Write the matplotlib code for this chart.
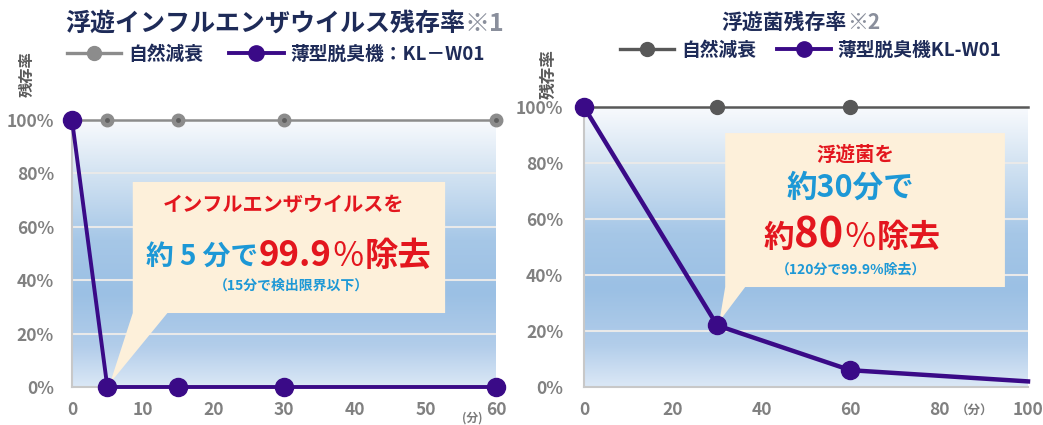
import numpy as np
import matplotlib
matplotlib.use('Agg')
import matplotlib.pyplot as plt
from matplotlib.patches import Polygon
from matplotlib.lines import Line2D
from matplotlib.colors import LinearSegmentedColormap

W, H = 1043, 425
JP = ['Noto Sans CJK JP', 'DejaVu Sans']
plt.rcParams['font.family'] = JP

# ---------------- data ----------------
flu_time = [0, 5, 15, 30, 60]
flu_natural = [100, 100, 100, 100, 100]
flu_device = [100, 0, 0, 0, 0]
flu_xticks = [0, 10, 20, 30, 40, 50, 60]

bac_time = [0, 30, 60, 100]
bac_natural = [100, 100, 100, 100]
bac_device = [100, 22, 6, 2]
bac_marker_idx = [0, 1, 2]
bac_xticks = [0, 20, 40, 60, 80, 100]

yticks = [0, 20, 40, 60, 80, 100]
ytick_labels = [f'{v}%' for v in yticks]

title_left = '浮遊インフルエンザウイルス残存率'
note_left = '※1'
title_right = '浮遊菌残存率'
note_right = '※2'
legend_left = ['自然減衰', '薄型脱臭機：KL－W01']
legend_right = ['自然減衰', '薄型脱臭機KL-W01']
ylabel_text = '残存率'
xunit_left = '(分)'
xunit_right = '（分）'

# ---------------- style ----------------
NAVY = '#1e2b58'
RED = '#e3161e'
BLUE = '#1d98d6'
PURPLE = '#3a0a87'
GRAY_L = '#8c8c8c'
GRAY_R = '#585858'
CREAM = '#fdf0da'
TICK = '#808080'

fig = plt.figure(figsize=(W / 100, H / 100), dpi=100)


def px_axes(x0, x1, ytop, ybot):
    return fig.add_axes([x0 / W, 1 - ybot / H, (x1 - x0) / W, (ybot - ytop) / H])


axL = px_axes(72, 496, 120, 387)
axR = px_axes(584, 1028, 107, 387)

grad_cmap = LinearSegmentedColormap.from_list('bg', [
    (0.0, '#dbe8f6'), (0.15, '#b2cdea'), (0.35, '#9bc0e4'),
    (0.55, '#a6c7e7'), (0.8, '#d3e3f2'), (1.0, '#f8fafd')])
grad = np.linspace(0, 1, 256).reshape(-1, 1)


def style_axes(ax, xmax, xticks, ypad):
    ax.set_xlim(0, xmax)
    ax.set_ylim(0, 100)
    ax.imshow(grad, extent=(0, xmax, 0, 100), origin='lower', aspect='auto',
              cmap=grad_cmap, zorder=0)
    ax.hlines([20, 40, 60, 80], 0, xmax, color='#e9e9e9', lw=1.5, zorder=1)
    for s in ['top', 'right']:
        ax.spines[s].set_visible(False)
    for s in ['left', 'bottom']:
        ax.spines[s].set_color('#c8c8c8')
        ax.spines[s].set_linewidth(1.5)
    ax.set_xticks(xticks)
    ax.set_yticks(yticks)
    ax.set_yticklabels(ytick_labels)
    ax.tick_params(axis='both', length=0, labelsize=12.5, labelcolor=TICK)
    ax.tick_params(axis='y', pad=ypad)
    ax.tick_params(axis='x', pad=10)
    for lab in ax.get_xticklabels() + ax.get_yticklabels():
        lab.set_fontweight('bold')


style_axes(axL, 60, flu_xticks, 13)
style_axes(axR, 100, bac_xticks, 15)


# callout boxes (drawn behind the lines)
def callout(ax, x0, x1, y0, y1, tb0, tb1, tip):
    verts = [(x0, y1), (x1, y1), (x1, y0), (tb1, y0), tip, (tb0, y0), (x0, y0)]
    ax.add_patch(Polygon(verts, closed=True, facecolor=CREAM, edgecolor='none', zorder=2))


callout(axL, 8.6, 52.8, 27.7, 76.8, 8.6, 13.5, (flu_time[1] + 0.4, flu_device[1] + 1.5))
callout(axR, 31.8, 94.8, 35.7, 90.7, 31.8, 36.3, (bac_time[1] + 0.5, bac_device[1] + 1.5))

# left series
axL.plot(flu_time, flu_natural, color=GRAY_L, lw=1.8, marker='o', ms=9,
         mfc=GRAY_L, mec=GRAY_L, zorder=4, clip_on=False)
axL.plot(flu_time, flu_natural, ls='none', marker='o', ms=2.5, color='#5f5f5f',
         zorder=4.5, clip_on=False)
axL.plot(flu_time, flu_device, color=PURPLE, lw=2.8, marker='o', ms=13,
         mfc=PURPLE, mec=PURPLE, zorder=5, clip_on=False)

# right series
axR.plot(bac_time, bac_natural, color=GRAY_R, lw=1.8, marker='o', ms=10,
         markevery=bac_marker_idx, mfc=GRAY_R, mec=GRAY_R, zorder=4, clip_on=False)
axR.plot(bac_time, bac_device, color=PURPLE, lw=3.2, marker='o', ms=13,
         markevery=bac_marker_idx, mfc=PURPLE, mec=PURPLE, zorder=5, clip_on=False)


# legends
def make_legend(ax, labels, gray, gray_ms, x_px, y_px, colsp):
    hs = [Line2D([], [], color=gray, lw=2.4, marker='o', ms=gray_ms, mfc=gray, mec=gray),
          Line2D([], [], color=PURPLE, lw=2.8, marker='o', ms=11, mfc=PURPLE, mec=PURPLE)]
    leg = ax.legend(hs, labels, loc='center left', bbox_to_anchor=(x_px / W, 1 - y_px / H),
                    bbox_transform=fig.transFigure, ncol=2, frameon=False,
                    handlelength=2.9, handletextpad=0.35, columnspacing=colsp,
                    borderpad=0, borderaxespad=0,
                    prop={'family': JP, 'weight': 'bold', 'size': 13.5})
    for t in leg.get_texts():
        t.set_color(NAVY)


make_legend(axL, legend_left, GRAY_L, 10, 67, 54, 1.4)
make_legend(axR, legend_right, GRAY_R, 10, 620, 50, 1.1)

# rich text lines
fig.canvas.draw()
renderer = fig.canvas.get_renderer()


def rich(xpx, ybase_px, segs, ha='center'):
    ts = []
    for seg in segs:
        s, size, color = seg[:3]
        weight = seg[3] if len(seg) > 3 else 'bold'
        t = fig.text(0, 1 - ybase_px / H, s, fontsize=size, color=color, fontweight=weight,
                     va='baseline', ha='left', family=JP)
        ts.append(t)
    ws = [t.get_window_extent(renderer).width for t in ts]
    x = xpx - sum(ws) / 2 if ha == 'center' else xpx
    for t, w in zip(ts, ws):
        t.set_x(x / W)
        x += w


# titles
rich(65, 31, [(title_left, 18, NAVY), (note_left, 18, '#8a8f9c')], ha='left')
rich(801, 29, [(title_right, 15, NAVY), (note_right, 15, '#8a8f9c')])

# left callout text
rich(284, 211, [('インフルエンザウイルスを', 14.5, RED)])
rich(289, 266, [('約 5 分で', 20, BLUE), ('99.9', 25, RED), ('％', 24, RED, 'normal'),
                ('除去', 24, RED)])
rich(291, 290, [('（15分で検出限界以下）', 10, BLUE)])

# right callout text
rich(855, 161, [('浮遊菌を', 14, RED)])
rich(850, 197, [('約30分で', 22, BLUE)])
rich(852, 247, [('約', 22, RED), ('80', 30, RED), ('％', 24, RED, 'normal'),
                ('除去', 23, RED)])
rich(851, 274, [('（120分で99.9%除去）', 10, BLUE)])

# y labels and x units
fig.text(27 / W, 1 - 74 / H, ylabel_text, rotation=90, ha='center', va='center',
         fontsize=11, fontweight='bold', color='#5a5a5a')
fig.text(549 / W, 1 - 74 / H, ylabel_text, rotation=90, ha='center', va='center',
         fontsize=12, fontweight='bold', color='#5a5a5a')
fig.text(472 / W, 1 - 418 / H, xunit_left, ha='center', va='center',
         fontsize=8.5, fontweight='bold', color='#7a7a7a')
fig.text(975 / W, 1 - 411 / H, xunit_right, ha='center', va='center',
         fontsize=9, fontweight='bold', color='#7a7a7a')

fig.savefig('out.png', dpi=100, facecolor='white')
